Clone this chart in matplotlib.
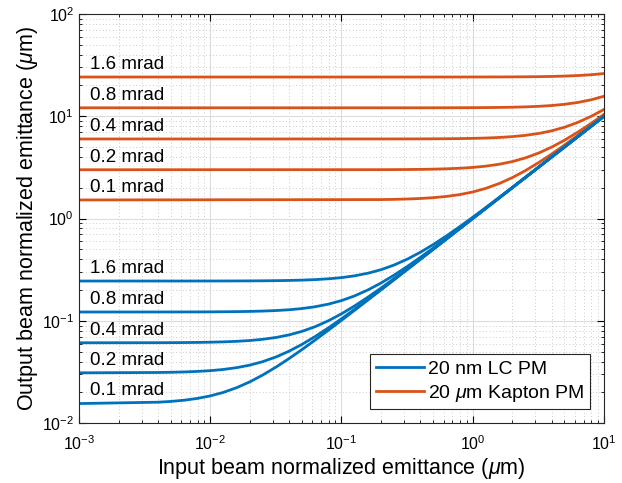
import matplotlib
matplotlib.use("Agg")
import matplotlib.pyplot as plt
import numpy as np
from matplotlib.ticker import LogLocator, NullFormatter

plt.rcParams['font.family'] = ['Liberation Sans', 'DejaVu Sans']
plt.rcParams['mathtext.fontset'] = 'custom'
plt.rcParams['mathtext.rm'] = 'Liberation Sans'
plt.rcParams['mathtext.it'] = 'Liberation Sans:italic'

# input emittance (um) where the blue curves were read
x_lc = [0.001, 0.004, 0.005, 0.0063, 0.008, 0.01, 0.0125, 0.016, 0.02, 0.025,
        0.032, 0.04, 0.05, 0.063, 0.08, 0.1, 0.125, 0.16, 0.2, 0.25,
        0.32, 0.4, 0.5, 0.63, 0.8, 1.0, 1.25, 1.6, 2.5, 4, 10]

# 20 nm LC PM (blue), output emittance (um)
lc_01 = [0.01553, 0.01601, 0.01629, 0.01673, 0.01744, 0.01845, 0.01991, 0.02228, 0.0253, 0.02942,
         0.03556, 0.0429, 0.05235, 0.06488, 0.08149, 0.10119, 0.12596, 0.16075, 0.2006, 0.2505,
         0.32038, 0.4003, 0.5002, 0.6302, 0.8002, 1.0001, 1.2501, 1.6001, 2.5, 4.0, 10.0]
lc_02 = [0.03102, 0.03126, 0.0314, 0.03163, 0.03202, 0.03257, 0.03343, 0.03489, 0.03689, 0.03982,
         0.04455, 0.05061, 0.05883, 0.07021, 0.0858, 0.10469, 0.12879, 0.16298, 0.20239, 0.25191,
         0.3215, 0.4012, 0.50096, 0.63076, 0.8006, 1.00048, 1.25038, 1.6003, 2.5002, 4.0001, 10.0]
lc_04 = [0.06101, 0.06113, 0.0612, 0.06132, 0.06152, 0.06181, 0.06227, 0.06306, 0.0642, 0.06592,
         0.06888, 0.07295, 0.07887, 0.08769, 0.1006, 0.11714, 0.13909, 0.17124, 0.2091, 0.25734,
         0.32576, 0.40463, 0.50371, 0.63295, 0.80232, 1.00186, 1.25149, 1.60116, 2.50074, 4.00047, 10.0002]
lc_08 = [0.122, 0.12207, 0.1221, 0.12216, 0.12226, 0.12241, 0.12264, 0.12304, 0.12363, 0.12453,
         0.12613, 0.12839, 0.13185, 0.13731, 0.14589, 0.15775, 0.17467, 0.20121, 0.23427, 0.27818,
         0.34247, 0.41819, 0.51467, 0.6417, 0.80925, 1.00742, 1.25594, 1.60464, 2.50298, 4.00186, 10.0007]
lc_16 = [0.245, 0.24503, 0.24505, 0.24508, 0.24513, 0.2452, 0.24532, 0.24552, 0.24582, 0.24627,
         0.24708, 0.24824, 0.25005, 0.25297, 0.25773, 0.26462, 0.27505, 0.29262, 0.31627, 0.35004,
         0.40302, 0.46907, 0.5568, 0.67596, 0.83668, 1.02958, 1.27378, 1.61865, 2.51198, 4.0075, 10.003]

# input emittance (um) where the orange curves were read
x_kp = [0.001, 0.2, 0.25, 0.32, 0.4, 0.5, 0.63, 0.8, 1.0, 1.25,
        1.6, 2.0, 2.5, 3.2, 4, 5, 6.3, 8, 10]

# 20 um Kapton PM (orange), output emittance (um)
kp_01 = [1.52, 1.5331, 1.5404, 1.5533, 1.5718, 1.6001, 1.6454, 1.7177, 1.8195, 1.968,
         2.2069, 2.512, 2.9258, 3.5427, 4.2791, 5.226, 6.4808, 8.1431, 10.1149]
kp_02 = [3.0, 3.0067, 3.0104, 3.017, 3.0266, 3.0414, 3.0654, 3.1048, 3.1623, 3.25,
         3.4, 3.6056, 3.9051, 4.3863, 5.0, 5.831, 6.9778, 8.544, 10.4403]
kp_04 = [6.0, 6.0033, 6.0052, 6.0085, 6.0133, 6.0208, 6.033, 6.0531, 6.0828, 6.1288,
         6.2097, 6.3246, 6.5, 6.8, 7.2111, 7.8102, 8.7, 10.0, 11.6619]
kp_08 = [12.1, 12.1017, 12.1026, 12.1042, 12.1066, 12.1103, 12.1164, 12.1264, 12.1413, 12.1644,
         12.2053, 12.2642, 12.3556, 12.516, 12.744, 13.0924, 13.6418, 14.5055, 15.6975]
kp_16 = [24.2, 24.2008, 24.2013, 24.2021, 24.2033, 24.2052, 24.2082, 24.2132, 24.2206, 24.2323,
         24.2528, 24.2825, 24.3288, 24.4107, 24.5283, 24.7111, 25.0066, 25.4881, 26.1847]

angle_labels = ['0.1 mrad', '0.2 mrad', '0.4 mrad', '0.8 mrad', '1.6 mrad']
lc_curves = [lc_01, lc_02, lc_04, lc_08, lc_16]
kp_curves = [kp_01, kp_02, kp_04, kp_08, kp_16]

blue = '#0072BD'
orange = '#D95319'

fig = plt.figure(figsize=(6.22, 4.83), dpi=100)
ax = fig.add_axes([0.127, 0.124, 0.844, 0.847])

for i, (yb, yo) in enumerate(zip(lc_curves, kp_curves)):
    ax.plot(x_lc, yb, color=blue, lw=2.0,
            label='20 nm LC PM' if i == 0 else None)
    ax.plot(x_kp, yo, color=orange, lw=2.0,
            label=r'20 $\mu$m Kapton PM' if i == 0 else None)
    ax.text(1.22e-3, yb[0] * 1.1, angle_labels[i], fontsize=13.5, va='bottom', ha='left')
    ax.text(1.22e-3, yo[0] * 1.1, angle_labels[i], fontsize=13.5, va='bottom', ha='left')

ax.set_xscale('log')
ax.set_yscale('log')
ax.set_xlim(1e-3, 10)
ax.set_ylim(1e-2, 1e2)

ax.xaxis.set_major_locator(LogLocator(base=10, numticks=10))
ax.yaxis.set_major_locator(LogLocator(base=10, numticks=10))
ax.xaxis.set_minor_locator(LogLocator(base=10, subs=np.arange(2, 10), numticks=50))
ax.yaxis.set_minor_locator(LogLocator(base=10, subs=np.arange(2, 10), numticks=50))
ax.xaxis.set_minor_formatter(NullFormatter())
ax.yaxis.set_minor_formatter(NullFormatter())

ax.tick_params(which='both', direction='in', top=True, right=True, labelsize=11.5)
ax.tick_params(which='major', length=5)
ax.tick_params(which='minor', length=2.5)
ax.tick_params(axis='x', pad=8)

ax.grid(True, which='major', color='#dcdcdc', lw=0.8, ls='-')
ax.grid(True, which='minor', color='#bbbbbb', lw=0.6, ls=(0, (1, 3)))
ax.set_axisbelow(True)
for sp in ax.spines.values():
    sp.set_color('#262626')
    sp.set_linewidth(0.8)

ax.set_xlabel(r'Input beam normalized emittance ($\mu$m)', fontsize=15.5, labelpad=2)
ax.set_ylabel(r'Output beam normalized emittance ($\mu$m)', fontsize=15.5, labelpad=1)

leg = ax.legend(loc='lower right', fontsize=14, fancybox=False, framealpha=1,
                edgecolor='#262626', handlelength=2.5, handletextpad=0.2,
                borderpad=0.3, labelspacing=0.25, borderaxespad=0.7)
leg.get_frame().set_linewidth(0.8)

fig.savefig('out.png', dpi=100)
